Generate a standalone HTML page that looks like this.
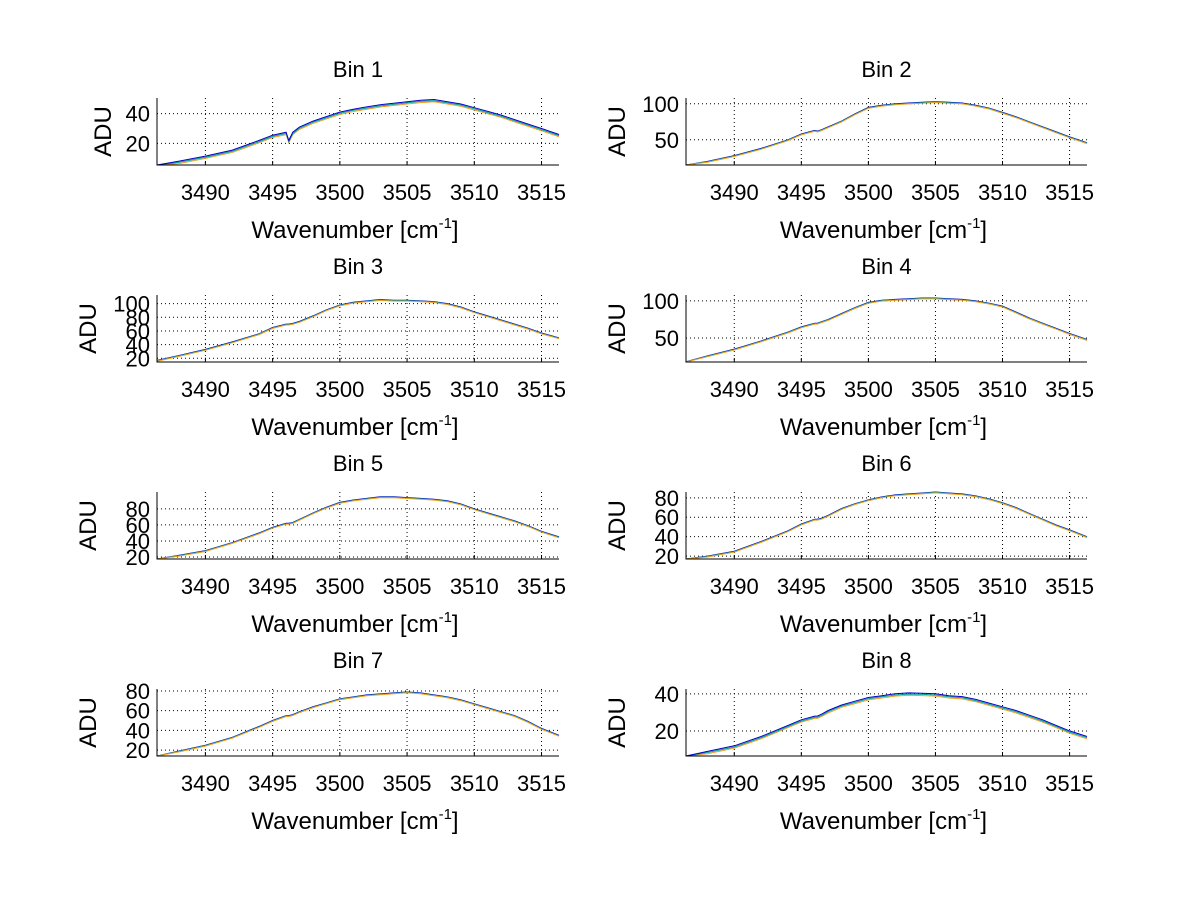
<!DOCTYPE html>
<html><head><meta charset="utf-8"><style>
body{margin:0;background:#fff;}
svg text{font-family:"Liberation Sans",sans-serif;fill:#000;}
</style></head><body>
<svg id="fig" width="1200" height="901" xmlns="http://www.w3.org/2000/svg"></svg>
<script>
const xTicks=[3490,3495,3500,3505,3510,3515];
const xMin=3486.4, xMax=3516.3;
const binNames=["Bin 1","Bin 2","Bin 3","Bin 4","Bin 5","Bin 6","Bin 7","Bin 8"];
const yLims=[[5.5,50.5],[15,108],[14.6,112.6],[17.6,108],[17.5,101],[17,86],[14,82],[6.5,42.6]];
const yTicks=[[20,40],[50,100],[20,40,60,80,100],[50,100],[20,40,60,80],[20,40,60,80],[20,40,60,80],[20,40]];
const wn=[3486.4,3488,3490,3492,3494,3495,3496,3496.2,3496.5,3497,3498,3499,3500,3501,3502,3503,3504,3505,3506,3507,3508,3509,3510,3511,3512,3513,3514,3515,3516.3];
const bin1=[5.5,8,11.5,15.5,22,25.5,27.5,22,27.5,31,35,38,41,43,44.5,46,47,48,49,49.5,48,46.5,44,41.5,39,36,33,30,26];
const bin2=[15,20,28,38,50,58,63,62,64,68,76,86,95,98,100,101,102,103,102,101,98,94,88,82,75,68,61,54,46];
const bin3=[17,24,33,44,56,65,70,70,71,74,82,91,98,102,104,106,105,105,104,103,100,95,88,82,76,70,64,57,50];
const bin4=[18,26,35,46,58,65,70,70,72,75,83,91,98,101,102,103,104,104,103,102,100,97,93,85,77,70,63,56,48];
const bin5=[17.5,22,28,38,50,57,62,62,63,67,75,82,88,91,93,95,95,94,93,92,90,86,80,75,70,65,59,52,45];
const bin6=[17,20,25,35,46,53,58,58,59,62,69,74,78,81,83,84,85,86,85,84,82,79,75,70,64,58,52,47,40];
const bin7=[14,19,25,33,44,50,55,55,56,59,64,68,72,74,76,77,78,79,78,76,74,71,67,63,59,55,49,42,35];
const bin8=[6.5,9,12,17,23,26,28,28,29,31,34,36,38,39,40,40.5,40.3,40,39,38.5,37,35,33,31,28.5,26,23,20,17];
const bins=[bin1,bin2,bin3,bin4,bin5,bin6,bin7,bin8];
const seriesOffsets=[0,-0.6,-1.2];
const seriesColors=["#0000c8","#00a0a0","#f0a020"];
const NS="http://www.w3.org/2000/svg";
const svg=document.getElementById('fig');
function mk(tag,attrs,parent){const e=document.createElementNS(NS,tag);for(const k in attrs)e.setAttribute(k,attrs[k]);(parent||svg).appendChild(e);return e;}
for(let i=0;i<8;i++){
  const col=i%2,row=Math.floor(i/2);
  const L=col?686:157,R=col?1087:559,T=98+row*197,B=165+row*197;
  const g=mk('g',{});
  
  
  const xs=v=>L+(v-xMin)/(xMax-xMin)*(R-L);
  const [y0,y1]=yLims[i];
  const ys=v=>B-(v-y0)/(y1-y0)*(B-T);
  const big=(i===0||i===7);
  xTicks.forEach(t=>{
    const x=xs(t);
    const gl=mk('line',{x1:x,x2:x,y1:T,y2:B,stroke:'#000','stroke-width':1,'stroke-dasharray':'1,3'},g);
    
    
    mk('line',{x1:x,x2:x,y1:B,y2:B-4,stroke:'#000'},g);
    const tl=mk('text',{x:x,y:B+35,'font-size':22,'text-anchor':'middle'},g);
    tl.textContent=t;
    
    
  });
  yTicks[i].forEach(t=>{
    const y=ys(t);
    const gl=mk('line',{x1:L,x2:R,y1:y,y2:y,stroke:'#000','stroke-width':1,'stroke-dasharray':'1,3'},g);
    
    
    const tl=mk('text',{x:L-7,y:y+8,'font-size':22,'text-anchor':'end'},g);
    tl.textContent=t;
    
    
  });
  const order=big?[2,1,0]:[0,1,2];
  order.forEach(s=>{
    const off=seriesOffsets[s]*(big?1.3:0.5);
    const d=wn.map((w,k)=>(k?'L':'M')+xs(w).toFixed(1)+','+ys(Math.max(y0,bins[i][k]+off*(y1-y0)/45)).toFixed(1)).join('');
    const p=mk('path',{d:d,fill:'none',stroke:seriesColors[s],'stroke-width':1},g);
    
    
  });
  const ax=mk('path',{d:`M${L},${T}L${L},${B}L${R},${B}`,fill:'none',stroke:'#000','stroke-width':1},g);
  
  
  const ti=mk('text',{x:(L+R)/2,y:T-21,'font-size':22,'text-anchor':'middle'},g);
  ti.textContent=binNames[i];
  
  
  const xl=mk('text',{x:(L+R)/2-3,y:B+73,'font-size':24,'text-anchor':'middle'},g);
  xl.innerHTML='Wavenumber [cm<tspan dy="-10" font-size="15">-1</tspan><tspan dy="10">]</tspan>';
  
  
  const yx=col?625:(i===0?111:96);
  const yl=mk('text',{x:yx,y:(T+B)/2,'font-size':24,'text-anchor':'middle',transform:`rotate(-90 ${yx} ${(T+B)/2})`},g);
  yl.textContent='ADU';
  
  
}
</script>
</body></html>
